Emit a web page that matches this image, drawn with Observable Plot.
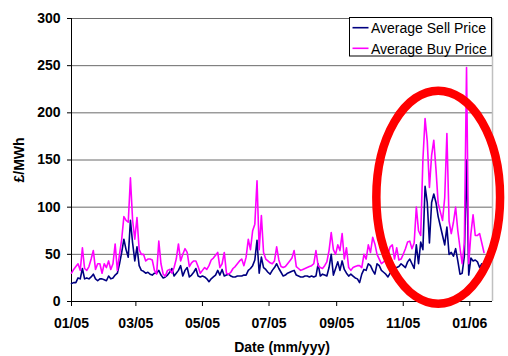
<!DOCTYPE html>
<html>
<head>
<meta charset="utf-8">
<script src="https://cdn.jsdelivr.net/npm/d3@7"></script>
<script src="https://cdn.jsdelivr.net/npm/@observablehq/plot@0.6"></script>
<style>
  body { margin: 0; background: #fff; }
  #chart { position: relative; width: 508px; height: 356px; font-family: "Liberation Sans", Arial, sans-serif; }
  #chart svg.main text { font-weight: bold; }
  #legend { position: absolute; left: 349px; top: 17px; }
</style>
</head>
<body>
<div id="chart"></div>
<script>
// Daily-average wholesale prices, one reading every second day from 1 Jan 2005
const seriesStart = Date.UTC(2005, 0, 1);
const stepDays = 2;

const sellPrice = [
  19, 20, 20, 25, 24, 35, 24, 25, 24, 26, 29, 24, 22, 24, 24, 23, 22, 27, 24, 25,
  28, 30, 40, 52, 66, 55, 47, 86, 62, 43, 58, 38, 33, 32, 30, 31, 29, 28, 30, 30,
  33, 28, 25, 26, 28, 31, 35, 27, 30, 33, 38, 27, 33, 36, 26, 28, 31, 35, 27, 26,
  27, 26, 24, 21, 24, 26, 28, 33, 28, 34, 27, 28, 29, 27, 26, 26, 27, 27, 27, 28,
  28, 33, 35, 38, 44, 65, 30, 47, 36, 34, 31, 29, 33, 36, 40, 35, 31, 27, 28, 30,
  31, 32, 33, 28, 27, 26, 26, 27, 27, 26, 27, 26, 27, 40, 27, 29, 28, 27, 36, 50,
  28, 35, 42, 33, 43, 34, 30, 27, 29, 27, 25, 24, 20, 29, 34, 33, 40, 38, 33, 29,
  40, 38, 33, 31, 29, 26, 30, 33, 35, 36, 37, 40, 38, 36, 42, 45, 40, 35, 60, 40,
  63, 55, 122, 105, 62, 105, 114, 105, 90, 80, 70, 60, 79, 50, 52, 48, 56, 43, 29, 30,
  48, 150, 28, 46, 43, 44, 42, 36, 40, 35
];

const buyPrice = [
  30, 34, 37, 40, 33, 57, 35, 33, 37, 45, 54, 34, 40, 40, 30, 40, 36, 43, 34, 40,
  61, 33, 50, 66, 90, 86, 84, 131, 86, 66, 89, 55, 50, 50, 43, 45, 45, 44, 33, 29,
  64, 40, 29, 27, 33, 34, 30, 36, 45, 61, 43, 50, 56, 52, 37, 41, 43, 43, 37, 30,
  33, 36, 34, 38, 44, 46, 49, 52, 36, 40, 52, 30, 29, 31, 35, 37, 40, 43, 45, 38,
  47, 66, 55, 75, 82, 128, 55, 91, 52, 45, 43, 41, 40, 43, 58, 44, 37, 36, 37, 40,
  43, 46, 54, 37, 35, 33, 34, 35, 36, 37, 38, 40, 54, 38, 36, 35, 38, 42, 54, 73,
  55, 50, 60, 54, 72, 45, 57, 36, 33, 36, 37, 38, 38, 36, 50, 45, 60, 52, 68, 61,
  50, 45, 40, 42, 44, 50, 58, 60, 45, 57, 44, 45, 50, 56, 63, 64, 56, 62, 100, 75,
  70, 150, 194, 170, 121, 155, 171, 140, 104, 95, 86, 110, 178, 85, 72, 84, 100, 75, 57, 40,
  62, 248, 40, 72, 92, 70, 70, 72, 62, 52
];

const seriesNames = ["Average Sell Price", "Average Buy Price"];
const seriesColors = ["#000080", "#ff00ff"];

const xDomain = [new Date(Date.UTC(2005, 0, 1)), new Date(Date.UTC(2006, 0, 21, 19))];
const xTicks = [
  Date.UTC(2005, 0, 1), Date.UTC(2005, 2, 1), Date.UTC(2005, 4, 1), Date.UTC(2005, 6, 1),
  Date.UTC(2005, 8, 1), Date.UTC(2005, 10, 1), Date.UTC(2006, 0, 1)
].map(t => new Date(t));
const yTicks = [0, 50, 100, 150, 200, 250, 300];
const xTitle = "Date (mm/yyy)";
const yTitle = "£/MWh";

// Highlight ring around the winter price spikes (centre and radii in data units)
const ringCenter = {date: new Date(Date.UTC(2005, 11, 3, 12)), value: 110};
const ringRadius = {days: 56.7, value: 113};

const dayMs = 864e5;
const dateAt = i => new Date(seriesStart + i * stepDays * dayMs);
const sellRows = sellPrice.map((v, i) => ({date: dateAt(i), value: v}));
const buyRows = buyPrice.map((v, i) => ({date: dateAt(i), value: v}));

const ring = (index, scales) => {
  const x = scales.x, y = scales.y;
  const cx = x(ringCenter.date);
  const cy = y(ringCenter.value);
  const rx = x(new Date(+ringCenter.date + ringRadius.days * dayMs)) - cx;
  const ry = cy - y(ringCenter.value + ringRadius.value);
  const el = document.createElementNS("http://www.w3.org/2000/svg", "ellipse");
  el.setAttribute("cx", cx);
  el.setAttribute("cy", cy);
  el.setAttribute("rx", rx);
  el.setAttribute("ry", ry);
  el.setAttribute("fill", "none");
  el.setAttribute("stroke", "#ff0000");
  el.setAttribute("stroke-width", 8.5);
  return el;
};

const chart = Plot.plot({
  width: 508,
  height: 356,
  marginLeft: 71,
  marginRight: 16,
  marginTop: 18,
  marginBottom: 55,
  style: {fontFamily: "'Liberation Sans', Arial, sans-serif", fontSize: "14px", background: "#fff", overflow: "visible"},
  x: {type: "utc", domain: xDomain},
  y: {domain: [0, 300]},
  marks: [
    Plot.gridY(yTicks.slice(1), {stroke: "#6a6a6a", strokeOpacity: 1}),
    Plot.ruleX([xDomain[1]], {stroke: "#c0c0c0", strokeWidth: 1.5}),
    Plot.ruleY([0], {stroke: "#000"}),
    Plot.ruleX([xDomain[0]], {stroke: "#000"}),
    Plot.line(sellRows, {x: "date", y: "value", stroke: seriesColors[0], strokeWidth: 1.6}),
    Plot.line(buyRows, {x: "date", y: "value", stroke: seriesColors[1], strokeWidth: 1.6}),
    ring,
    Plot.axisX({
      ticks: xTicks, tickFormat: d3.utcFormat("%m/%y"), tickSize: 5, tickPadding: 12,
      label: xTitle, labelAnchor: "center", labelOffset: 50, labelArrow: "none"
    }),
    Plot.axisY({
      ticks: yTicks, tickSize: 4, tickPadding: 7,
      label: yTitle, labelAnchor: "center", labelOffset: 57, labelArrow: "none"
    })
  ]
});
chart.classList.add("main");

const root = document.getElementById("chart");
root.appendChild(chart);

// Legend box in the upper right corner of the plot area
const ns = "http://www.w3.org/2000/svg";
const legend = document.createElementNS(ns, "svg");
legend.setAttribute("id", "legend");
legend.setAttribute("width", 143);
legend.setAttribute("height", 40);
const box = document.createElementNS(ns, "rect");
box.setAttribute("x", 0.5); box.setAttribute("y", 0.5);
box.setAttribute("width", 142); box.setAttribute("height", 38.5);
box.setAttribute("fill", "#fff"); box.setAttribute("stroke", "#000");
legend.appendChild(box);
seriesNames.forEach((name, i) => {
  const cy = 10.7 + i * 20.6;
  const ln = document.createElementNS(ns, "line");
  ln.setAttribute("x1", 3.5); ln.setAttribute("x2", 19.5);
  ln.setAttribute("y1", cy); ln.setAttribute("y2", cy);
  ln.setAttribute("stroke", seriesColors[i]); ln.setAttribute("stroke-width", 1.6);
  legend.appendChild(ln);
  const tx = document.createElementNS(ns, "text");
  tx.setAttribute("x", 22); tx.setAttribute("y", cy + 5.3);
  tx.setAttribute("font-family", "'Liberation Sans', Arial, sans-serif");
  tx.setAttribute("font-size", 14);
  tx.textContent = name;
  legend.appendChild(tx);
});
root.appendChild(legend);
</script>
</body>
</html>
